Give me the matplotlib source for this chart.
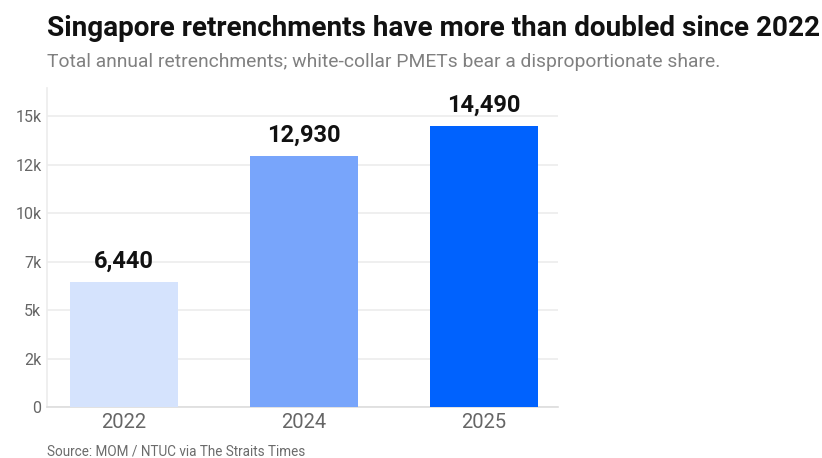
import matplotlib
matplotlib.use("Agg")
import matplotlib.pyplot as plt
from matplotlib import font_manager

# ---------------------------------------------------------------------
#  Data
# ---------------------------------------------------------------------
years = ["2022", "2024", "2025"]
retrenchments = [6440, 12930, 14490]
bar_colors = ["#d5e3fd", "#78a5fb", "#0062fe"]

ytick_values = [0, 2500, 5000, 7500, 10000, 12500, 15000]
ytick_labels = ["0", "2k", "5k", "7k", "10k", "12k", "15k"]

title = "Singapore retrenchments have more than doubled since 2022"
subtitle = "Total annual retrenchments; white-collar PMETs bear a disproportionate share."
source = "Source: MOM / NTUC via The Straits Times"


def pick_font(candidates):
    names = {f.name for f in font_manager.fontManager.ttflist}
    for c in candidates:
        if c in names:
            return c
    return "DejaVu Sans"


narrow = pick_font(["Liberation Sans Narrow", "Roboto", "Liberation Sans"])
base = pick_font(["Roboto", "Liberation Sans"])
plt.rcParams["font.family"] = [base, "DejaVu Sans"]

W, H = 822, 458
fig = plt.figure(figsize=(W / 100, H / 100), dpi=100)

# axes box in pixels: left 47, right 558, bottom 407, top 88
ax = fig.add_axes([47 / W, 1 - 407 / H, (558 - 47) / W, (407 - 88) / H])

x = list(range(len(years)))
bars = ax.bar(x, retrenchments, width=0.6, color=bar_colors, zorder=3)

for rect, val in zip(bars, retrenchments):
    ax.annotate(f"{val:,}", (rect.get_x() + rect.get_width() / 2, val),
                xytext=(0, 7), textcoords="offset points",
                ha="center", va="bottom", fontsize=17, fontweight="bold",
                color="#111111", family=[narrow, "DejaVu Sans"])

ax.set_xlim(-0.428, 2.411)
ax.set_ylim(0, 16450)
ax.set_xticks(x)
ax.set_xticklabels(years)
ax.set_yticks(ytick_values)
ax.set_yticklabels(ytick_labels)
ax.tick_params(axis="y", length=0, pad=4, labelsize=11.5, labelcolor="#666666")
ax.tick_params(axis="x", length=0, pad=4, labelsize=14.5, labelcolor="#666666")

ax.yaxis.grid(True, color="#ececec", linewidth=1.2, zorder=0)
for side in ["top", "right"]:
    ax.spines[side].set_visible(False)
ax.spines["left"].set_color("#ececec")
ax.spines["left"].set_linewidth(1.2)
ax.spines["bottom"].set_color("#dddddd")
ax.spines["bottom"].set_linewidth(1.2)

t_title = fig.text(47 / W, 1 - 36 / H, title, ha="left", va="baseline",
                   fontsize=22, fontweight="bold", color="#111111",
                   family=[narrow, "DejaVu Sans"])
t_sub = fig.text(47 / W, 1 - 67 / H, subtitle, ha="left", va="baseline",
                 fontsize=14, color="#808080", family=[narrow, "DejaVu Sans"])
t_src = fig.text(47 / W, 1 - 455 / H, source, ha="left", va="baseline",
                 fontsize=11, color="#6b6b6b", family=[narrow, "DejaVu Sans"])

# scale header/footer text so each line spans its intended width
fig.canvas.draw()
renderer = fig.canvas.get_renderer()
for txt, target in [(t_title, 773), (t_sub, 675), (t_src, 258)]:
    w = txt.get_window_extent(renderer).width
    txt.set_fontsize(txt.get_fontsize() * target / w)

fig.savefig("out.png", dpi=100)
